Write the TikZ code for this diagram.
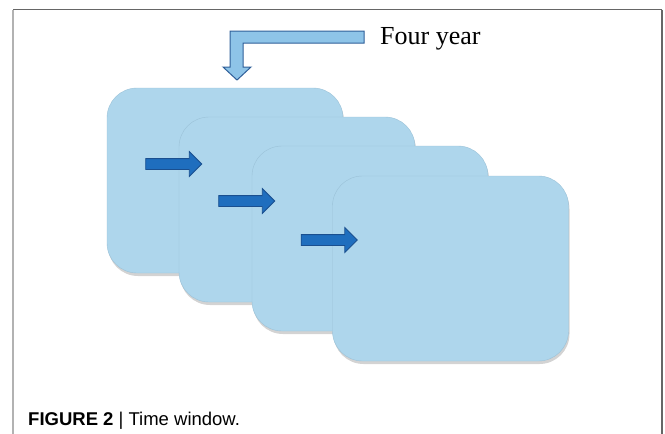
\documentclass[tikz,border=0pt]{standalone}
\usepackage{fontspec}
\setmainfont{Liberation Serif}
\newfontfamily\capfont{Liberation Sans}
\usetikzlibrary{shapes.arrows,shadows}

\definecolor{cardblue}{HTML}{AED6EC}
\definecolor{cardedge}{HTML}{9BC2D8}
\definecolor{arrowblue}{HTML}{1F6EBE}
\definecolor{arrowedge}{HTML}{1A4F8F}
\definecolor{spanblue}{HTML}{8EC4E8}
\definecolor{spanedge}{HTML}{2F5F99}

\begin{document}
\begin{tikzpicture}[x=1pt,y=-1pt,
    window/.style={draw=cardedge,fill=cardblue,rounded corners=30pt,
        minimum width=236pt,minimum height=185pt,inner sep=0pt,
        drop shadow={shadow xshift=1pt,shadow yshift=-3pt,opacity=0.35}},
    nextarrow/.style={single arrow,draw=arrowedge,fill=arrowblue,line width=0.8pt,
        minimum height=56pt,inner sep=5pt,single arrow head extend=7pt,outer sep=0pt}]
    \useasboundingbox (0,0) rectangle (665,434);

    \draw[black!60,line width=1.5pt](13,9.5)--(662,9.5);
    \draw[black!30,line width=1.5pt](13,9.5)--(13,434);
    \draw[black!60,line width=1.5pt](662,9.5)--(662,434);

    \node[window] (w1) at (225,180.5) {};
    \node[window] (w2) at (297,209.5) {};
    \node[window] (w3) at (370,238.5) {};
    \node[window] (w4) at (450.5,268.5) {};

    \node[nextarrow] (a1) at (171,164) {};
    \node[nextarrow] (a2) at (244,201) {};
    \node[nextarrow] (a3) at (326.5,240) {};

    \draw[draw=spanedge,fill=spanblue,line width=1pt,line join=miter]
        (364,31)--(230,31)--(230,67)--(223,67)--(237,80)--(251,67)--(243,67)--(243,43)--(364,43)--cycle;
    \node[anchor=base west,inner sep=0pt,font=\fontsize{26}{30}\selectfont] (span) at (380,44) {Four year};

    \node[anchor=base west,inner sep=0pt,font=\capfont\fontsize{18.5}{22}\selectfont] (caption) at (28,425) {\textbf{FIGURE 2} | Time window.};
\end{tikzpicture}
\end{document}
